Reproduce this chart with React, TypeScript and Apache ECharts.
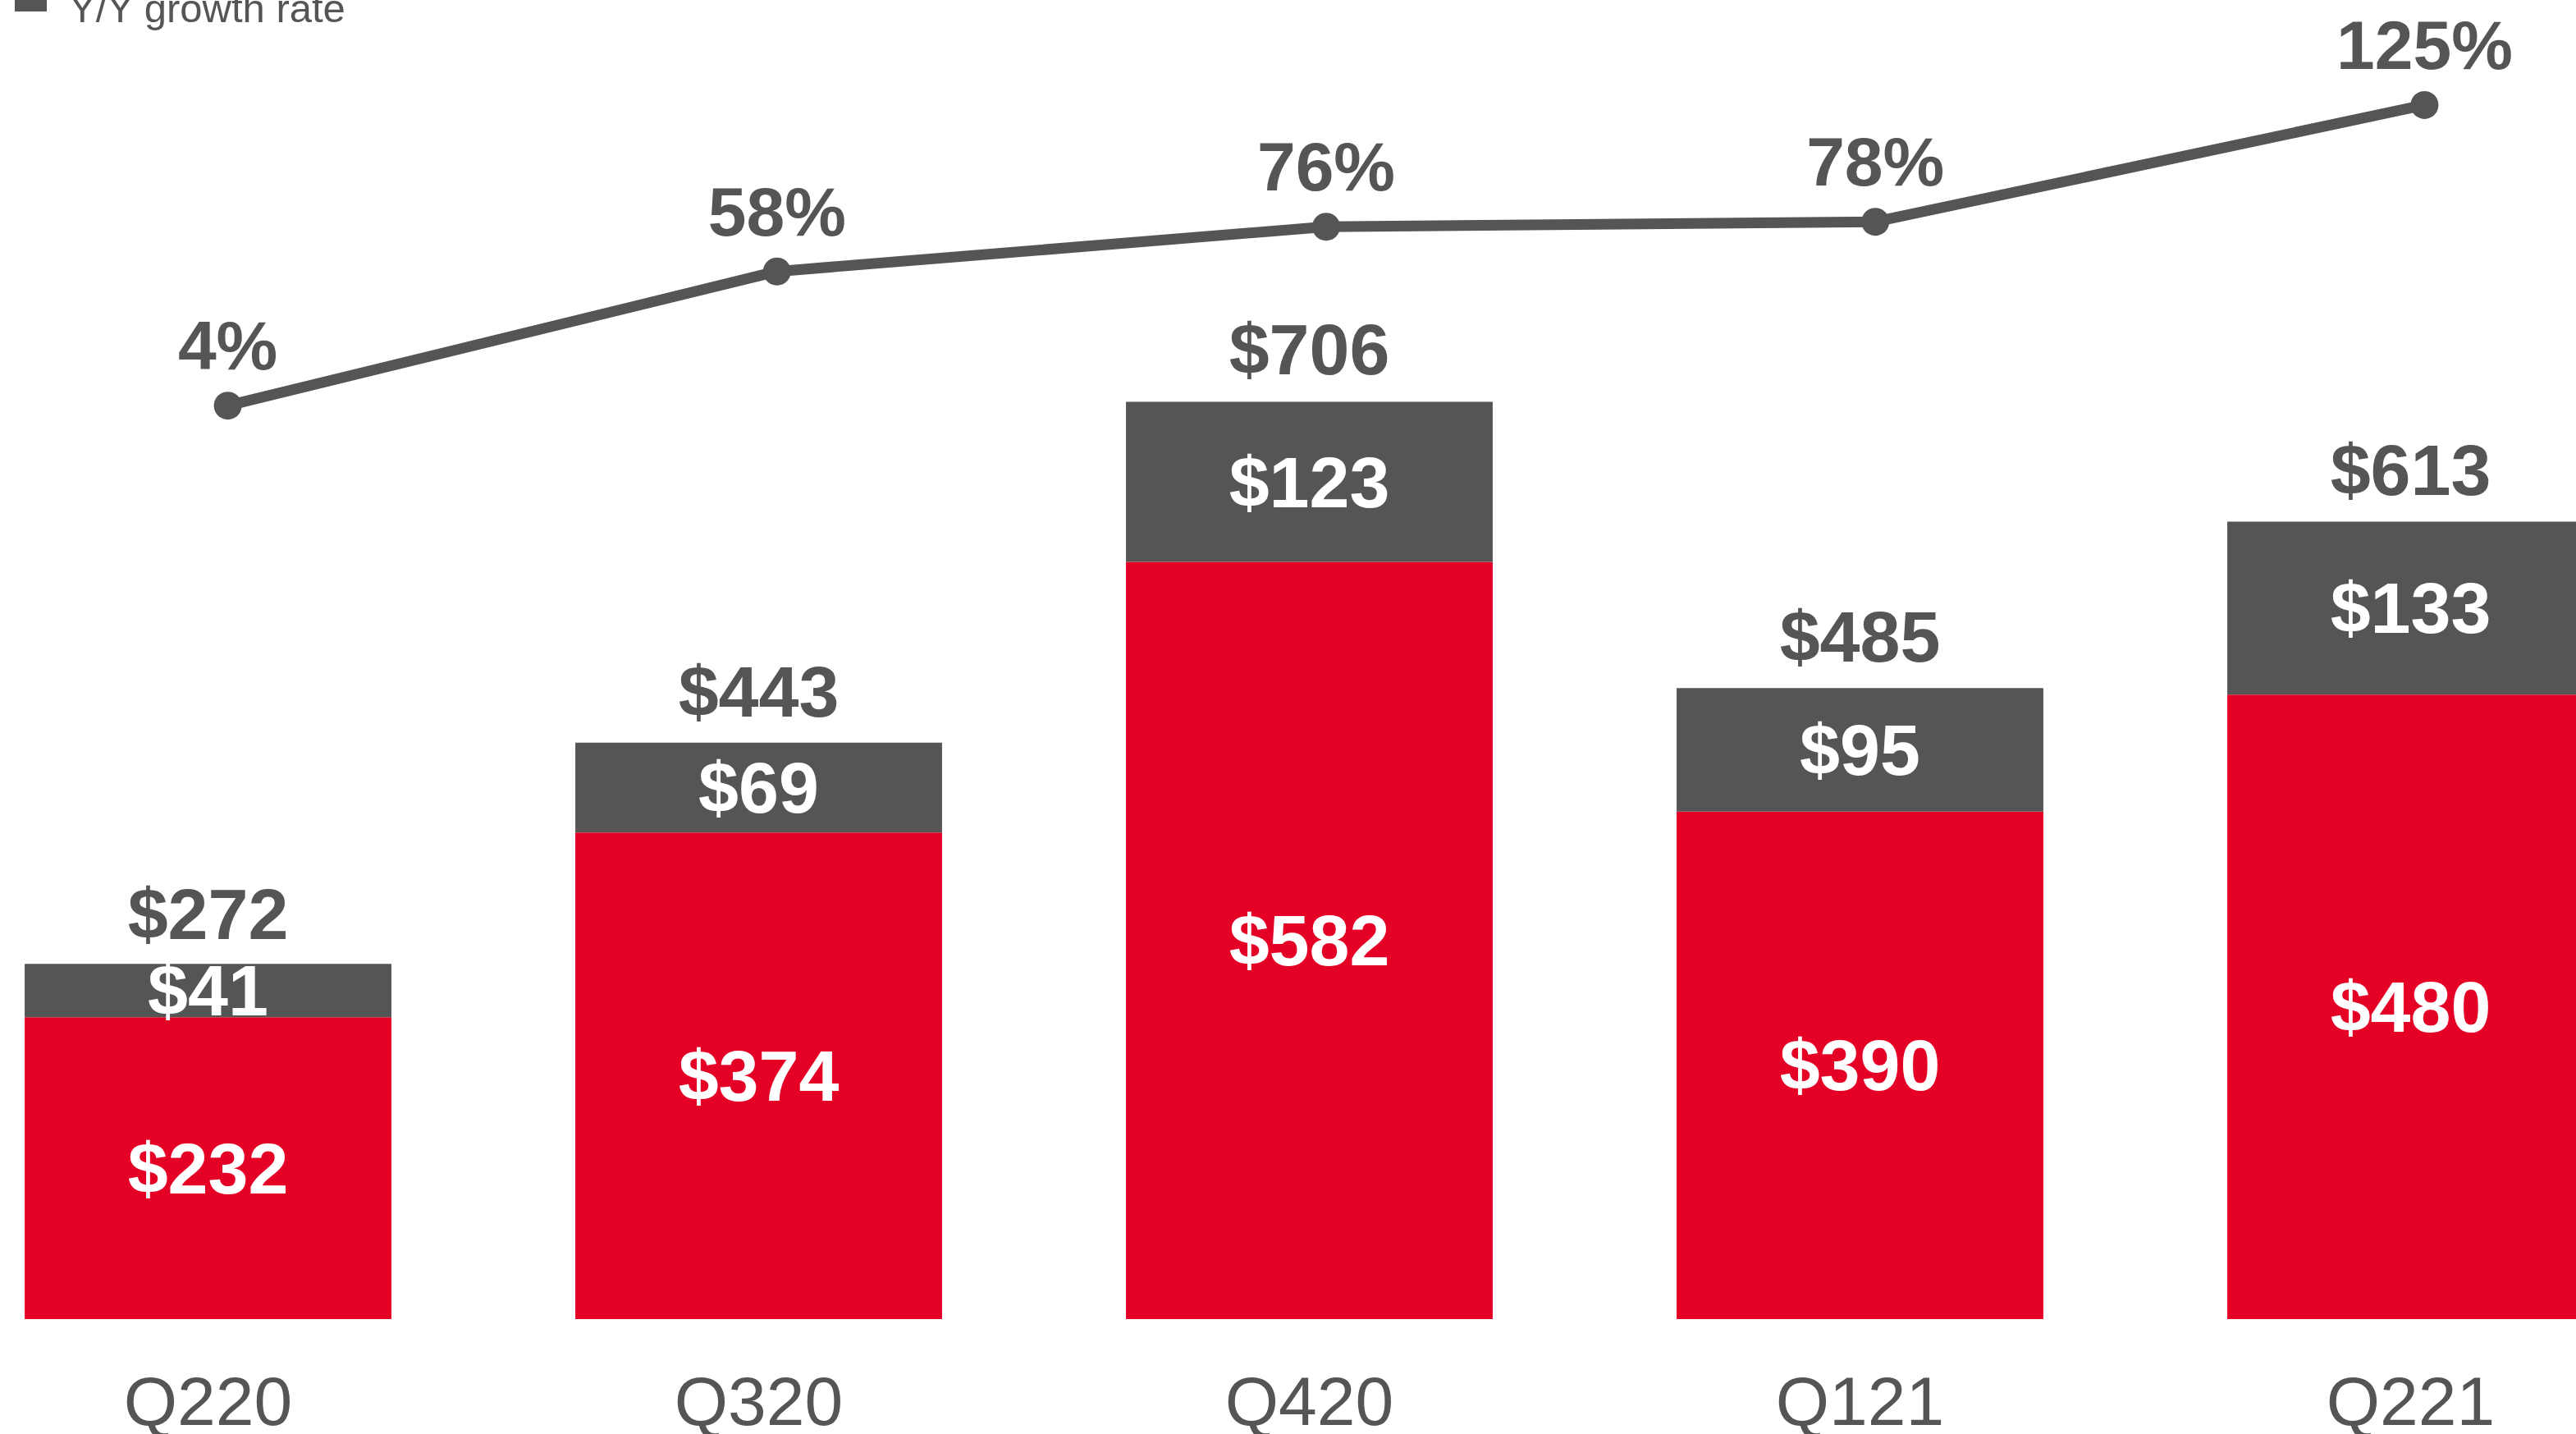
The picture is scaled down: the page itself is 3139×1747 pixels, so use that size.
import React, { useEffect, useRef } from "react";
import * as echarts from "echarts";

const categories = ["Q220", "Q320", "Q420", "Q121", "Q221"];
const redValues = [232, 374, 582, 390, 480];
const grayValues = [41, 69, 123, 95, 133];
const totalValues = [272, 443, 706, 485, 613];
const growthRates = [4, 58, 76, 78, 125];
const legendLabel = "Y/Y growth rate";

const RED = "#E50025";
const GRAY = "#555555";
const FONT = "'Liberation Sans', Arial, Helvetica, sans-serif";

export default function App() {
  const ref = useRef<HTMLDivElement>(null);
  useEffect(() => {
    if (!ref.current) return;
    const chart = echarts.init(ref.current, null, { renderer: "svg" });
    const valueLabel = {
      show: true,
      position: "inside",
      color: "#ffffff",
      fontSize: 88,
      fontWeight: "bold",
      fontFamily: FONT,
      formatter: (p: any) => "$" + p.value,
    };
    chart.setOption({
      animation: false,
      backgroundColor: "#ffffff",
      grid: [
        { left: -82, right: -134, top: 22, bottom: 140, containLabel: false, outerBoundsMode: "none" },
        { left: -57, right: -150, top: 28, bottom: 142, containLabel: false, outerBoundsMode: "none" },
      ],
      xAxis: [
        {
          type: "category",
          gridIndex: 0,
          data: categories,
          axisLine: { show: false },
          axisTick: { show: false },
          axisLabel: { color: GRAY, fontSize: 84, fontFamily: FONT, margin: 58 },
        },
        {
          type: "category",
          gridIndex: 1,
          data: categories,
          show: false,
        },
      ],
      yAxis: [
        { type: "value", gridIndex: 0, min: 0, max: 1000, show: false, splitLine: { show: false } },
        { type: "value", gridIndex: 1, min: -363, max: 158, show: false, splitLine: { show: false } },
      ],
      series: [
        {
          type: "bar",
          name: "red",
          xAxisIndex: 0,
          yAxisIndex: 0,
          stack: "total",
          data: redValues,
          barCategoryGap: "33.4%",
          itemStyle: { color: RED },
          label: valueLabel,
        },
        {
          type: "bar",
          name: "gray",
          xAxisIndex: 0,
          yAxisIndex: 0,
          stack: "total",
          data: grayValues,
          barCategoryGap: "33.4%",
          itemStyle: { color: GRAY },
          label: valueLabel,
        },
        {
          type: "scatter",
          name: "total",
          xAxisIndex: 0,
          yAxisIndex: 0,
          data: totalValues,
          symbolSize: 1,
          itemStyle: { color: "rgba(0,0,0,0)", opacity: 1 },
          label: {
            show: true,
            position: "top",
            distance: 18,
            color: GRAY,
            fontSize: 88,
            fontWeight: "bold",
            fontFamily: FONT,
            formatter: (p: any) => "$" + p.value,
          },
        },
        {
          type: "line",
          name: legendLabel,
          xAxisIndex: 1,
          yAxisIndex: 1,
          data: growthRates,
          symbol: "circle",
          symbolSize: 34,
          lineStyle: { color: GRAY, width: 13 },
          itemStyle: { color: GRAY },
          label: {
            show: true,
            position: "top",
            distance: 14,
            color: GRAY,
            fontSize: 84,
            fontWeight: "bold",
            fontFamily: FONT,
            formatter: (p: any) => p.value + "%",
          },
        },
      ],
      graphic: [
        {
          type: "rect",
          left: 18,
          top: -10,
          shape: { width: 39, height: 24 },
          style: { fill: GRAY },
        },
        {
          type: "text",
          x: 84,
          y: 10,
          style: {
            text: legendLabel,
            fill: GRAY,
            font: "49px " + FONT,
            verticalAlign: "middle",
          },
        },
      ],
    });
    return () => chart.dispose();
  }, []);
  return <div ref={ref} style={{ width: 3139, height: 1747, position: "absolute", left: 0, top: 0 }} />;
}
